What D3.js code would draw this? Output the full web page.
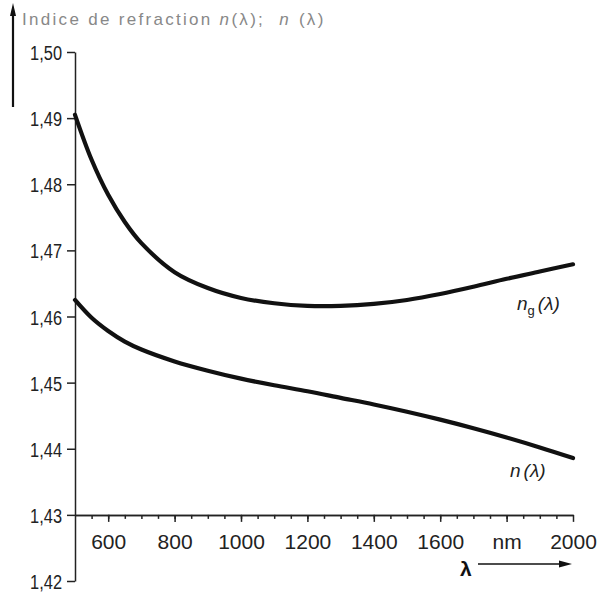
<!DOCTYPE html>
<html>
  <head>
    <meta charset="utf-8" />
    <title>Indice de refraction</title>
    <script src="https://cdn.jsdelivr.net/npm/d3@7"></script>
    <style>
      body { margin: 0; background: #fff; }
      svg { display: block; }
    </style>
  </head>
  <body>
    <script>
// values
var wavelengths = [500, 550, 600, 650, 700, 800, 900, 1000, 1100, 1200, 1300, 1400, 1500, 1600, 1700, 1800, 1900, 2000];
var ngValues = [1.4905, 1.4837, 1.4784, 1.4743, 1.4711, 1.4667, 1.4643, 1.4628, 1.4620, 1.4616, 1.4616, 1.4619, 1.4625, 1.4634, 1.4645, 1.4657, 1.4668, 1.4679];
var nValues  = [1.4625, 1.4598, 1.4578, 1.4562, 1.4550, 1.4532, 1.4518, 1.4506, 1.4496, 1.4487, 1.4477, 1.4467, 1.4456, 1.4444, 1.4431, 1.4417, 1.4402, 1.4386];
var yTicks = [1.42, 1.43, 1.44, 1.45, 1.46, 1.47, 1.48, 1.49, 1.50];
var xTicks = [600, 800, 1000, 1200, 1400, 1600, 1800, 2000];
var xLabels = ["600", "800", "1000", "1200", "1400", "1600", "nm", "2000"];
var xMinor = d3.range(550, 2000, 50);

var w = 598, h = 594;
var font = "'Liberation Sans', Arial, sans-serif";

var svg = d3.select("body").append("svg")
    .attr("width", w)
    .attr("height", h);

var x = d3.scaleLinear().domain([500, 2000]).range([75, 573]);
var y = d3.scaleLinear().domain([1.42, 1.50]).range([581, 52]);

var comma = function(d) { return d3.format(".2f")(d).replace(".", ","); };

// y axis
var yAxis = svg.append("g")
    .attr("transform", "translate(" + x(500) + ",0)")
    .call(d3.axisLeft(y).tickValues(yTicks).tickFormat(comma)
      .tickSize(8).tickSizeOuter(0).tickPadding(5));

// x axis sits on 1,43
var x0 = y(1.43);
var xMinorAxis = svg.append("g")
    .attr("transform", "translate(0," + x0 + ")")
    .call(d3.axisBottom(x).tickValues(xMinor).tickFormat("")
      .tickSize(4).tickSizeOuter(0));
var xAxis = svg.append("g")
    .attr("transform", "translate(0," + x0 + ")")
    .call(d3.axisBottom(x).tickValues(xTicks)
      .tickFormat(function(d, i) { return xLabels[i]; })
      .tickSize(7).tickSizeOuter(0).tickPadding(12));

svg.selectAll(".domain, .tick line")
    .attr("stroke", "#222")
    .attr("stroke-width", 1.5);
svg.selectAll(".tick text")
    .attr("fill", "#222")
    .style("font-family", font)
    .style("font-size", "21px");
// the scan's y labels are set narrow
var sx = 0.78;
yAxis.selectAll(".tick text")
    .attr("dy", "0.36em")
    .attr("x", -13 / sx)
    .attr("transform", "scale(" + sx + ",1)");

// curves
var line = d3.line()
    .x(function(d) { return x(d[0]); })
    .y(function(d) { return y(d[1]); })
    .curve(d3.curveCatmullRom.alpha(0.5));

var series = [
  wavelengths.map(function(d, i) { return [d, ngValues[i]]; }),
  wavelengths.map(function(d, i) { return [d, nValues[i]]; })
];

svg.selectAll("path.curve")
    .data(series)
  .enter().append("path")
    .attr("class", "curve")
    .attr("d", line)
    .attr("fill", "none")
    .attr("stroke", "#111")
    .attr("stroke-width", 4.2)
    .attr("stroke-linecap", "round");

// curve labels
var ng = svg.append("text")
    .attr("x", 517).attr("y", 310)
    .style("font-family", font).style("font-size", "19px")
    .attr("fill", "#222");
ng.append("tspan").style("font-style", "italic").text("n");
ng.append("tspan").attr("dy", 5).style("font-size", "13px").text("g");
ng.append("tspan").attr("dy", -5).attr("dx", 3).style("font-style", "italic").text("(λ)");

var nl = svg.append("text")
    .attr("x", 510).attr("y", 477)
    .style("font-family", font).style("font-size", "19px")
    .style("font-style", "italic")
    .attr("fill", "#222");
nl.append("tspan").text("n");
nl.append("tspan").attr("dx", 3).text("(λ)");

// axis title on top, with the arrow
svg.append("line")
    .attr("x1", 13).attr("x2", 13)
    .attr("y1", 12).attr("y2", 107)
    .attr("stroke", "#111").attr("stroke-width", 2.2);
svg.append("path")
    .attr("d", "M13,3 L16,16 L10,16 Z")
    .attr("fill", "#111");

var title = svg.append("text")
    .attr("x", 22).attr("y", 25)
    .style("font-family", font).style("font-size", "17px")
    .style("letter-spacing", "2.3px")
    .attr("fill", "#888");
title.append("tspan").text("Indice de refraction ");
title.append("tspan").style("font-style", "italic").text("n");
title.append("tspan").text("(λ);");
title.append("tspan").attr("dx", 14).style("font-style", "italic").text("n");
title.append("tspan").attr("dx", 8).text("(λ)");

// lambda arrow under the x axis
svg.append("text")
    .attr("x", 460).attr("y", 576)
    .style("font-family", font).style("font-size", "21px")
    .style("font-weight", "bold")
    .attr("fill", "#111")
    .text("λ");
svg.append("line")
    .attr("x1", 478).attr("x2", 562)
    .attr("y1", 564).attr("y2", 564)
    .attr("stroke", "#111").attr("stroke-width", 1.6);
svg.append("path")
    .attr("d", "M572,564 L559,560.5 L559,567.5 Z")
    .attr("fill", "#111");
    </script>
  </body>
</html>
